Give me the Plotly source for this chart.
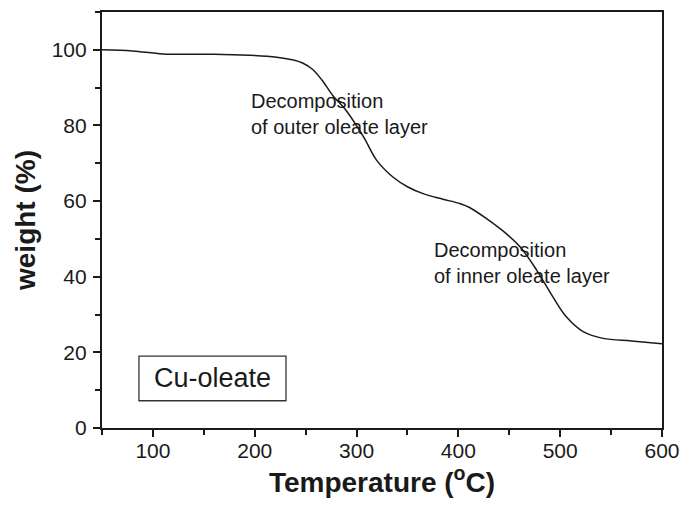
import plotly.graph_objects as go

temperature = [50, 80, 110, 160, 212, 238, 247, 257, 266, 277, 290, 307, 320, 336, 350, 366,
               385, 402, 411, 428, 447, 461, 477, 493, 506, 523, 542, 570, 600]
weight = [100, 99.7, 98.9, 98.8, 98.3, 97.3, 96.5, 94.8, 92.0, 87.8, 83.9, 76.9, 70.7, 66.3,
          63.8, 61.9, 60.5, 59.3, 58.3, 55.3, 51.4, 47.8, 41.7, 34.6, 29.4, 25.4, 23.7, 23.0, 22.3]

x_ticks = [100, 200, 300, 400, 500, 600]
y_ticks = [0, 20, 40, 60, 80, 100]

FONT = "Liberation Sans, Arial, sans-serif"
INK = "#1a1a1a"

fig = go.Figure()
fig.add_trace(go.Scatter(x=temperature, y=weight, mode="lines", line_shape="spline",
                         line=dict(color=INK, width=1.5), showlegend=False, cliponaxis=False))

axis_common = dict(showline=True, linecolor=INK, linewidth=2.2, mirror=True,
                   ticks="outside", ticklen=7, tickwidth=1.8, tickcolor=INK,
                   showgrid=False, zeroline=False,
                   tickfont=dict(family=FONT, size=21, color=INK))

fig.update_xaxes(range=[50, 600], tickvals=x_ticks, ticklabelstandoff=-4,
                 minor=dict(ticks="outside", ticklen=5, tickwidth=1.8, tickcolor=INK, dtick=50, tick0=0),
                 title=dict(text="<b>Temperature (<sup>o</sup>C)</b>", font=dict(family=FONT, size=28, color=INK), standoff=4),
                 **axis_common)
fig.update_yaxes(range=[0, 110], tickvals=y_ticks, ticklabelstandoff=2,
                 minor=dict(ticks="outside", ticklen=5, tickwidth=1.8, tickcolor=INK, dtick=10, tick0=0),
                 title=dict(text="<b>weight (%)</b>", font=dict(family=FONT, size=28, color=INK), standoff=8),
                 **axis_common)

fig.add_annotation(x=194, y=83, xref="x", yref="y", xanchor="left", yanchor="middle", align="left",
                   text="Decomposition<br>of outer oleate layer", showarrow=False,
                   font=dict(family=FONT, size=20, color=INK))
fig.add_annotation(x=374, y=43.5, xref="x", yref="y", xanchor="left", yanchor="middle", align="left",
                   text="Decomposition<br>of inner oleate layer", showarrow=False,
                   font=dict(family=FONT, size=20, color=INK))

fig.add_shape(type="rect", x0=86.3, x1=230.7, y0=7.2, y1=19, xref="x", yref="y",
              line=dict(color="#333333", width=1.3), fillcolor="rgba(0,0,0,0)")
fig.add_annotation(x=158.5, y=13.1, xref="x", yref="y", text="Cu-oleate", showarrow=False,
                   font=dict(family=FONT, size=27, color=INK))

fig.update_layout(width=683, height=511, margin=dict(l=102, r=21, t=12, b=83, autoexpand=False),
                  plot_bgcolor="white", paper_bgcolor="white",
                  font=dict(family=FONT, color=INK))

fig.write_html("out.html", config={"displayModeBar": False},
               post_script="document.body.style.margin='0';document.body.style.padding='0';")
